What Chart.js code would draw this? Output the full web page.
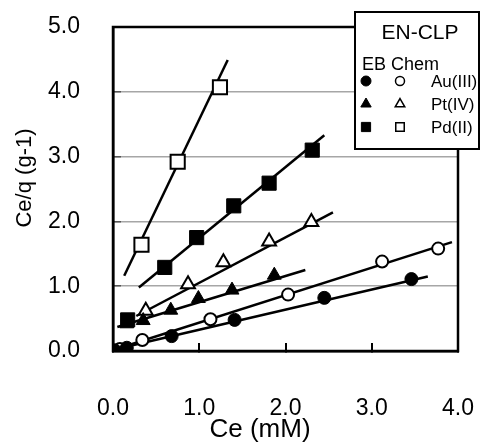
<!DOCTYPE html>
<html>
<head>
<meta charset="utf-8">
<script src="https://cdn.jsdelivr.net/npm/chart.js@4/dist/chart.umd.min.js"></script>
<style>
  html, body { margin: 0; padding: 0; background: #fff; }
  #wrap { width: 480px; height: 444px; }
</style>
</head>
<body>
<div id="wrap"><canvas id="chart"></canvas></div>
<script>
// Au(III)
const auFilledX = [0.02, 0.16, 0.68, 1.41, 2.45, 3.46];
const auFilledY = [0.01, 0.05, 0.23, 0.48, 0.82, 1.11];
const auOpenX = [0.08, 0.34, 1.13, 2.03, 3.12, 3.77];
const auOpenY = [0.03, 0.17, 0.49, 0.87, 1.38, 1.58];
// Pt(IV)
const ptFilledX = [0.16, 0.35, 0.67, 0.99, 1.38, 1.87];
const ptFilledY = [0.42, 0.47, 0.63, 0.81, 0.94, 1.17];
const ptOpenX = [0.38, 0.87, 1.28, 1.81, 2.30];
const ptOpenY = [0.62, 1.03, 1.37, 1.69, 1.99];
// Pd(II)
const pdFilledX = [0.17, 0.60, 0.97, 1.40, 1.81, 2.31];
const pdFilledY = [0.48, 1.29, 1.75, 2.24, 2.59, 3.10];
const pdOpenX = [0.33, 0.75, 1.24];
const pdOpenY = [1.64, 2.92, 4.07];

// fitted lines: [x start, x end], [y start, y end]
const fitLines = [
  { x: [0.04, 3.65], y: [0.03, 1.15] },
  { x: [0.04, 3.93], y: [0.03, 1.68] },
  { x: [0.05, 2.23], y: [0.37, 1.25] },
  { x: [0.27, 2.55], y: [0.54, 2.14] },
  { x: [0.30, 2.45], y: [0.98, 3.33] },
  { x: [0.13, 1.33], y: [1.16, 4.49] },
];

const xTicks = [0, 1, 2, 3, 4];
const yTicks = [0, 1, 2, 3, 4, 5];
const legendRows = ['Au(III)', 'Pt(IV)', 'Pd(II)'];

const FONT = 'Arial, "Liberation Sans", sans-serif';

function pts(xs, ys) {
  return xs.map((x, i) => ({ x: x, y: ys[i] }));
}

function markerSet(label, xs, ys, style, filled, radius) {
  return {
    type: 'scatter',
    label: label,
    data: pts(xs, ys),
    pointStyle: style,
    pointRadius: radius,
    pointHoverRadius: radius,
    pointBackgroundColor: filled ? '#000' : '#fff',
    pointBorderColor: '#000',
    pointBorderWidth: filled ? 1 : 2,
    showLine: false,
    order: 1,
  };
}

const datasets = [
  markerSet('Au(III) EN-CLP', auFilledX, auFilledY, 'circle', true, 6.5),
  markerSet('Au(III) EB Chem', auOpenX, auOpenY, 'circle', false, 6),
  markerSet('Pt(IV) EN-CLP', ptFilledX, ptFilledY, 'triangle', true, 8),
  markerSet('Pt(IV) EB Chem', ptOpenX, ptOpenY, 'triangle', false, 8),
  markerSet('Pd(II) EN-CLP', pdFilledX, pdFilledY, 'rect', true, 10),
  markerSet('Pd(II) EB Chem', pdOpenX, pdOpenY, 'rect', false, 10),
];

fitLines.forEach((ln, i) => {
  datasets.push({
    type: 'line',
    label: 'fit ' + i,
    data: pts(ln.x, ln.y),
    borderColor: '#000',
    borderWidth: 2.5,
    pointRadius: 0,
    fill: false,
    order: 2,
  });
});

// frame, axis titles and the boxed legend
const decorPlugin = {
  id: 'decor',
  afterDraw(chart) {
    const ctx = chart.ctx;
    const a = chart.chartArea;
    ctx.save();

    ctx.strokeStyle = '#000';
    ctx.lineWidth = 2.5;
    ctx.strokeRect(a.left, a.top, a.right - a.left, a.bottom - a.top);

    ctx.fillStyle = '#000';
    ctx.font = '26px ' + FONT;
    ctx.textAlign = 'center';
    ctx.textBaseline = 'alphabetic';
    ctx.fillText('Ce (mM)', 260, 437);

    ctx.save();
    ctx.translate(31, 178);
    ctx.rotate(-Math.PI / 2);
    ctx.font = '22px ' + FONT;
    ctx.fillText('Ce/q (g-1)', 0, 0);
    ctx.restore();

    // legend box
    const bx = 355, by = 12, bw = 124, bh = 137;
    ctx.fillStyle = '#fff';
    ctx.fillRect(bx, by, bw, bh);
    ctx.lineWidth = 2;
    ctx.strokeStyle = '#000';
    ctx.strokeRect(bx, by, bw, bh);

    ctx.fillStyle = '#000';
    ctx.textAlign = 'center';
    ctx.font = '21px ' + FONT;
    ctx.fillText('EN-CLP', 420, 39);
    ctx.textAlign = 'left';
    ctx.font = '18px ' + FONT;
    ctx.fillText('EB Chem', 362, 70);

    const styles = ['circle', 'triangle', 'rect'];
    const radii = [5, 6, 6.5];
    ctx.font = '17px ' + FONT;
    legendRows.forEach((name, i) => {
      const y = 81 + i * 23;
      ctx.fillStyle = '#000';
      ctx.strokeStyle = '#000';
      ctx.lineWidth = 1;
      Chart.helpers.drawPoint(ctx, { pointStyle: styles[i], radius: radii[i], borderWidth: 1 }, 366, y);
      ctx.fillStyle = '#fff';
      ctx.lineWidth = 1.5;
      Chart.helpers.drawPoint(ctx, { pointStyle: styles[i], radius: radii[i] - 0.5, borderWidth: 1.5 }, 400, y);
      ctx.fillStyle = '#000';
      ctx.textBaseline = 'middle';
      ctx.fillText(name, 431, y + 1);
    });

    ctx.restore();
  },
};

new Chart(document.getElementById('chart'), {
  data: { datasets: datasets },
  options: {
    responsive: true,
    maintainAspectRatio: false,
    animation: false,
    events: [],
    layout: { padding: { top: 27, right: 22, left: 0, bottom: 0 } },
    plugins: { legend: { display: false }, tooltip: { enabled: false } },
    scales: {
      x: {
        type: 'linear',
        min: 0,
        max: 4,
        afterBuildTicks: (s) => { s.ticks = xTicks.map((v) => ({ value: v })); },
        afterFit: (s) => {
          s.height = 93;
          s.paddingLeft = 0;
          s.paddingRight = 0;
        },
        ticks: {
          padding: 52,
          color: '#000',
          font: { family: FONT, size: 23 },
          callback: (v) => Number(v).toFixed(1),
        },
        grid: {
          drawOnChartArea: false,
          drawTicks: true,
          tickLength: -8,
          tickColor: '#000',
          lineWidth: 2,
        },
        border: { color: '#000', width: 2.5 },
      },
      y: {
        type: 'linear',
        min: 0,
        max: 5,
        afterBuildTicks: (s) => { s.ticks = yTicks.map((v) => ({ value: v })); },
        afterFit: (s) => {
          s.width = 113;
          s.paddingTop = 0;
          s.paddingBottom = 0;
        },
        ticks: {
          padding: 41,
          color: '#000',
          font: { family: FONT, size: 23 },
          callback: (v) => Number(v).toFixed(1),
        },
        grid: {
          color: '#a6a6a6',
          lineWidth: 1.5,
          drawTicks: true,
          tickLength: -8,
          tickColor: '#555',
        },
        border: { color: '#000', width: 2.5 },
      },
    },
  },
  plugins: [decorPlugin],
});
</script>
</body>
</html>
